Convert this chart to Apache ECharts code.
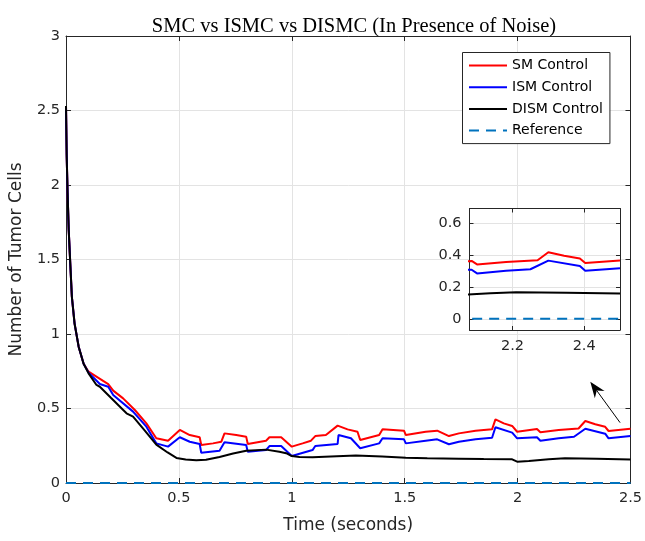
<!DOCTYPE html>
<html>
<head>
<meta charset="utf-8">
<title>SMC vs ISMC vs DISMC</title>
<script src="https://cdn.jsdelivr.net/npm/echarts@6/dist/echarts.min.js"></script>
<style>
  html, body { margin: 0; padding: 0; background: #fff; }
  #main { width: 645px; height: 541px; }
</style>
</head>
<body>
<div id="main"></div>
<script>
// shared fast decay at the very start
var earlyTime  = [0, 0.003, 0.007, 0.012, 0.019, 0.026, 0.038, 0.056, 0.078];
var earlyValue = [2.53, 2.2, 1.95, 1.70, 1.47, 1.25, 1.07, 0.915, 0.80];

var smTime  = [0.1, 0.187, 0.209, 0.253, 0.305, 0.356, 0.40, 0.452, 0.504, 0.548, 0.592, 0.599, 0.651, 0.688, 0.702, 0.754, 0.798, 0.805, 0.886, 0.901, 0.953, 1.0, 1.048, 1.085, 1.104, 1.151, 1.203, 1.247, 1.291, 1.303, 1.387, 1.402, 1.497, 1.505, 1.593, 1.644, 1.696, 1.74, 1.814, 1.887, 1.902, 1.939, 1.976, 1.998, 2.086, 2.101, 2.182, 2.27, 2.30, 2.344, 2.388, 2.403, 2.5];
var smValue = [0.747, 0.664, 0.62, 0.568, 0.49, 0.40, 0.30, 0.284, 0.356, 0.322, 0.307, 0.255, 0.266, 0.277, 0.333, 0.322, 0.311, 0.262, 0.284, 0.307, 0.307, 0.244, 0.266, 0.284, 0.315, 0.322, 0.385, 0.36, 0.344, 0.289, 0.322, 0.36, 0.351, 0.322, 0.344, 0.351, 0.315, 0.333, 0.351, 0.36, 0.427, 0.40, 0.383, 0.344, 0.362, 0.34, 0.356, 0.366, 0.416, 0.394, 0.377, 0.349, 0.364];

var ismTime  = [0.1, 0.15, 0.187, 0.209, 0.297, 0.356, 0.40, 0.452, 0.504, 0.548, 0.592, 0.599, 0.68, 0.702, 0.798, 0.805, 0.886, 0.901, 0.953, 1.0, 1.092, 1.104, 1.203, 1.207, 1.262, 1.303, 1.387, 1.402, 1.497, 1.505, 1.593, 1.644, 1.696, 1.74, 1.814, 1.887, 1.902, 1.976, 1.998, 2.086, 2.101, 2.182, 2.25, 2.30, 2.388, 2.403, 2.5];
var ismValue = [0.740, 0.664, 0.646, 0.59, 0.479, 0.378, 0.266, 0.244, 0.307, 0.277, 0.262, 0.203, 0.217, 0.273, 0.255, 0.21, 0.221, 0.248, 0.248, 0.181, 0.221, 0.248, 0.262, 0.322, 0.30, 0.233, 0.266, 0.30, 0.293, 0.266, 0.284, 0.293, 0.26, 0.277, 0.293, 0.304, 0.374, 0.338, 0.30, 0.307, 0.284, 0.30, 0.31, 0.364, 0.331, 0.30, 0.316];

var dismTime  = [0.1, 0.135, 0.15, 0.2, 0.268, 0.297, 0.35, 0.40, 0.45, 0.489, 0.53, 0.577, 0.62, 0.68, 0.74, 0.798, 0.886, 0.945, 0.975, 1.0, 1.034, 1.092, 1.2, 1.284, 1.4, 1.505, 1.6, 1.74, 1.85, 1.976, 1.998, 2.05, 2.138, 2.21, 2.35, 2.5];
var dismValue = [0.736, 0.658, 0.646, 0.57, 0.468, 0.445, 0.35, 0.258, 0.205, 0.168, 0.157, 0.153, 0.156, 0.175, 0.198, 0.217, 0.224, 0.21, 0.20, 0.181, 0.174, 0.172, 0.18, 0.185, 0.178, 0.17, 0.166, 0.163, 0.161, 0.159, 0.143, 0.148, 0.16, 0.166, 0.163, 0.158];

var refTime  = [0, 2.5];
var refValue = [0, 0];

var insetXTicks = [2.2, 2.4];
var insetYTicks = [0, 0.2, 0.4, 0.6];

function pairs(t, v) {
    var out = [];
    for (var i = 0; i < t.length; i++) out.push([t[i], v[i]]);
    return out;
}
function withEarly(t, v) {
    return pairs(earlyTime.concat(t), earlyValue.concat(v));
}

var smData = withEarly(smTime, smValue);
var ismData = withEarly(ismTime, ismValue);
var dismData = withEarly(dismTime, dismValue);
var refData = pairs(refTime, refValue);

var axisCol = '#262626';
var gridCol = '#e3e3e3';
var font = 'DejaVu Sans';

function mainAxis(extra) {
    var a = {
        type: 'value',
        axisLine: { show: true, onZero: false, lineStyle: { color: axisCol, width: 1 } },
        axisTick: { show: true, inside: true, length: 5, lineStyle: { color: axisCol } },
        splitLine: { show: false },
        axisLabel: { show: false }
    };
    for (var k in extra) a[k] = extra[k];
    return a;
}

var chart = echarts.init(document.getElementById('main'));

var seriesList = [
    { name: 'SM Control', data: smData, color: '#ff0000' },
    { name: 'ISM Control', data: ismData, color: '#0000ff' },
    { name: 'DISM Control', data: dismData, color: '#000000' },
    { name: 'Reference', data: refData, color: '#0072bd', dash: [10, 7] }
];

var series = [];
seriesList.forEach(function (s) {
    series.push({
        name: s.name, type: 'line', xAxisIndex: 0, yAxisIndex: 0,
        data: s.data, showSymbol: false, symbol: 'none', clip: !s.dash, z: 3,
        lineStyle: { color: s.color, width: 2, type: s.dash ? s.dash : 'solid' },
        itemStyle: { color: s.color },
        animation: false
    });
});
seriesList.forEach(function (s) {
    series.push({
        name: s.name, type: 'line', xAxisIndex: 2, yAxisIndex: 2,
        data: s.data, showSymbol: false, symbol: 'none', clip: true, z: 13,
        lineStyle: { color: s.color, width: 2, type: s.dash ? s.dash : 'solid' },
        itemStyle: { color: s.color },
        animation: false
    });
});

var option = {
    backgroundColor: '#fff',
    animation: false,
    title: {
        text: 'SMC vs ISMC vs DISMC (In Presence of Noise)',
        left: 349, top: 11, textAlign: 'center',
        textStyle: { fontFamily: 'Liberation Serif', fontSize: 20.5, fontWeight: 'normal', color: '#000' }
    },
    legend: {
        data: ['SM Control', 'ISM Control', 'DISM Control', 'Reference'],
        orient: 'vertical',
        left: 462.5, top: 52.5,
        padding: [6, 7, 6, 5.5],
        itemWidth: 38, itemHeight: 14, itemGap: 7.7,
        itemStyle: { opacity: 0 },
        backgroundColor: '#fff',
        borderColor: axisCol, borderWidth: 1,
        textStyle: { fontFamily: font, fontSize: 14, color: '#000' },
        z: 20
    },
    grid: [
        { left: 66, top: 36, width: 566, height: 447, show: false },
        { left: 469.5, top: 208.5, width: 150.5, height: 121.5, show: true, backgroundColor: '#fff', borderWidth: 0, z: 10 }
    ],
    xAxis: [
        mainAxis({
            gridIndex: 0, min: 0, max: 2.5, interval: 0.5, position: 'bottom',
            splitLine: { show: true, lineStyle: { color: gridCol, width: 1 } },
            axisLabel: { show: true, margin: 8, fontFamily: font, fontSize: 14.5, color: axisCol },
            name: 'Time (seconds)', nameLocation: 'middle', nameGap: 34,
            nameTextStyle: { fontFamily: font, fontSize: 17, color: axisCol }
        }),
        mainAxis({ gridIndex: 0, min: 0, max: 2.5, interval: 0.5, position: 'top' }),
        mainAxis({
            gridIndex: 1, min: 2.08, max: 2.5, position: 'bottom', z: 12,
            axisTick: { show: true, inside: true, length: 4, customValues: insetXTicks, lineStyle: { color: axisCol } },
            splitLine: { show: true, lineStyle: { color: gridCol, width: 1 } },
            axisLabel: { show: true, customValues: insetXTicks, margin: 9, fontFamily: font, fontSize: 14.5, color: axisCol }
        }),
        mainAxis({
            gridIndex: 1, min: 2.08, max: 2.5, position: 'top', z: 12,
            axisTick: { show: true, inside: true, length: 4, customValues: insetXTicks, lineStyle: { color: axisCol } }
        })
    ],
    yAxis: [
        mainAxis({
            gridIndex: 0, min: 0, max: 3, interval: 0.5, position: 'left',
            splitLine: { show: true, lineStyle: { color: gridCol, width: 1 } },
            axisLabel: { show: true, margin: 6, fontFamily: font, fontSize: 14.5, color: axisCol },
            name: 'Number of Tumor Cells', nameLocation: 'middle', nameGap: 41,
            nameTextStyle: { fontFamily: font, fontSize: 17, color: axisCol }
        }),
        mainAxis({ gridIndex: 0, min: 0, max: 3, interval: 0.5, position: 'right' }),
        mainAxis({
            gridIndex: 1, min: -0.07, max: 0.69, position: 'left', z: 12,
            axisTick: { show: true, inside: true, length: 4, customValues: insetYTicks, lineStyle: { color: axisCol } },
            splitLine: { show: true, lineStyle: { color: gridCol, width: 1 } },
            axisLabel: { show: true, customValues: insetYTicks, margin: 8, fontFamily: font, fontSize: 14.5, color: axisCol }
        }),
        mainAxis({
            gridIndex: 1, min: -0.07, max: 0.69, position: 'right', z: 12,
            axisTick: { show: true, inside: true, length: 4, customValues: insetYTicks, lineStyle: { color: axisCol } }
        })
    ],
    series: series
};
chart.setOption(option);

// annotation arrow pointing from the tail of the curves up to the inset
var tail = chart.convertToPixel({ xAxisIndex: 0, yAxisIndex: 0 }, [2.454, 0.405]);
var tip = chart.convertToPixel({ xAxisIndex: 0, yAxisIndex: 0 }, [2.322, 0.68]);
var dx = tip[0] - tail[0], dy = tip[1] - tail[1];
var len = Math.sqrt(dx * dx + dy * dy);
var ux = dx / len, uy = dy / len, px = -uy, py = ux;
var headLen = 16, headW = 6, notch = 11;
var back = [tip[0] - ux * headLen, tip[1] - uy * headLen];
var mid = [tip[0] - ux * notch, tip[1] - uy * notch];
chart.setOption({
    graphic: [
        {
            type: 'line', z: 30,
            shape: { x1: tail[0], y1: tail[1], x2: mid[0], y2: mid[1] },
            style: { stroke: '#000', lineWidth: 1 }
        },
        {
            type: 'polygon', z: 30,
            shape: { points: [tip, [back[0] + px * headW, back[1] + py * headW], mid, [back[0] - px * headW, back[1] - py * headW]] },
            style: { fill: '#000' }
        }
    ]
});
</script>
</body>
</html>
